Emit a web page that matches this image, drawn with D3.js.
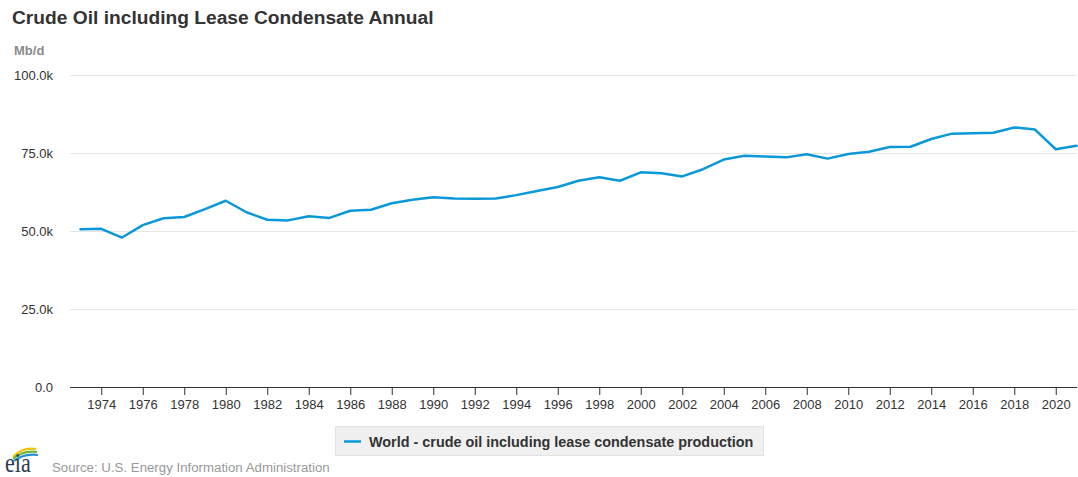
<!DOCTYPE html>
<html>
<head>
<meta charset="utf-8">
<script src="https://cdn.jsdelivr.net/npm/d3@7"></script>
<style>
  html, body { margin: 0; padding: 0; background: #fff; }
  svg { display: block; font-family: "Liberation Sans", Arial, sans-serif; }
</style>
</head>
<body>
<svg id="chart" width="1078" height="477"></svg>
<script>
// World crude oil including lease condensate production, thousand barrels per day
const years = d3.range(1973, 2022);
const production = [
  50600, 50700, 47900, 51900, 54100, 54500, 57000, 59700, 56000, 53600,
  53400, 54700, 54200, 56500, 56800, 58900, 60000, 60800, 60400, 60300,
  60400, 61500, 62800, 64100, 66100, 67200, 66100, 68800, 68500, 67500,
  69800, 72900, 74100, 73900, 73600, 74600, 73200, 74700, 75400, 76900,
  77000, 79500, 81200, 81300, 81500, 83200, 82500, 76200, 77300
];
const yTicks = [0, 25000, 50000, 75000, 100000];
const xTicks = d3.range(1974, 2021, 2);

const title = "Crude Oil including Lease Condensate Annual";
const unitLabel = "Mb/d";
const seriesName = "World - crude oil including lease condensate production";
const sourceText = "Source: U.S. Energy Information Administration";

const lineColor = "#0b98d8";
const svg = d3.select("#chart");

const plot = { left: 70, right: 1077, top: 75, bottom: 387 };
const x = d3.scaleLinear().domain([1973, 2021]).range([80.5, 1076.5]);
const y = d3.scaleLinear().domain([0, 100000]).range([plot.bottom, plot.top]);

// Title and unit
svg.append("text").attr("x", 12).attr("y", 24)
  .attr("font-size", 19.2).attr("font-weight", "bold").attr("fill", "#333")
  .text(title);
svg.append("text").attr("x", 14).attr("y", 55)
  .attr("font-size", 13).attr("font-weight", "bold").attr("fill", "#8a8a8a")
  .text(unitLabel);

// Horizontal gridlines
svg.append("g").selectAll("line").data(yTicks.filter(d => d > 0)).join("line")
  .attr("x1", plot.left).attr("x2", plot.right)
  .attr("y1", d => Math.round(y(d)) + 0.5).attr("y2", d => Math.round(y(d)) + 0.5)
  .attr("stroke", "#e6e6e6").attr("stroke-width", 1);

// Y axis labels
const yAxis = d3.axisLeft(y).tickValues(yTicks).tickSize(0).tickPadding(0)
  .tickFormat(d => d === 0 ? "0.0" : (d / 1000).toFixed(1) + "k");
const gy = svg.append("g").attr("transform", "translate(53,0)").call(yAxis);
gy.select(".domain").remove();
gy.selectAll("text").attr("font-size", 13).attr("fill", "#333")
  .attr("font-family", "Liberation Sans, Arial, sans-serif");

// X axis
const xAxis = d3.axisBottom(x).tickValues(xTicks).tickSize(8).tickPadding(5)
  .tickFormat(d3.format("d"));
const gx = svg.append("g").attr("transform", `translate(0,${plot.bottom})`).call(xAxis);
gx.select(".domain").attr("d", `M${plot.left},0.5H${plot.right}`)
  .attr("stroke", "#333").attr("stroke-width", 1);
gx.selectAll(".tick line").attr("stroke", "#333");
gx.selectAll("text").attr("font-size", 13).attr("fill", "#333")
  .attr("font-family", "Liberation Sans, Arial, sans-serif");

// Production line
const line = d3.line().x((d, i) => x(years[i])).y(d => y(d));
svg.append("path").datum(production)
  .attr("d", line)
  .attr("fill", "none").attr("stroke", lineColor).attr("stroke-width", 2.5)
  .attr("stroke-linejoin", "round").attr("stroke-linecap", "round");

// Legend
const legend = svg.append("g");
legend.append("rect").attr("x", 335.5).attr("y", 426.5).attr("width", 428).attr("height", 29)
  .attr("fill", "#f0f0f0").attr("stroke", "#e2e2e2");
legend.append("line").attr("x1", 344).attr("x2", 361).attr("y1", 441.5).attr("y2", 441.5)
  .attr("stroke", lineColor).attr("stroke-width", 2.5);
legend.append("text").attr("x", 369).attr("y", 446.5)
  .attr("font-size", 14.4).attr("font-weight", "bold").attr("fill", "#333")
  .text(seriesName);

// Agency mark and source note
const logo = svg.append("g");
logo.append("path").attr("d", "M13,457 Q22,447 36,449").attr("fill", "none")
  .attr("stroke", "#f2c200").attr("stroke-width", 2.2);
logo.append("path").attr("d", "M13,459 Q23,450 37,452").attr("fill", "none")
  .attr("stroke", "#6db33f").attr("stroke-width", 2.2);
logo.append("path").attr("d", "M14,461 Q24,453 38,455").attr("fill", "none")
  .attr("stroke", "#2a8fd0").attr("stroke-width", 2.2);
logo.append("text").attr("x", 0).attr("y", 0)
  .attr("transform", "translate(5,472) scale(1.05,1.3)")
  .attr("font-family", "Liberation Serif, DejaVu Serif, serif")
  .attr("font-size", 21).attr("fill", "#2d3b4e").text("eia");
svg.append("text").attr("x", 52).attr("y", 472)
  .attr("font-size", 13.25).attr("fill", "#999")
  .text(sourceText);
</script>
</body>
</html>
